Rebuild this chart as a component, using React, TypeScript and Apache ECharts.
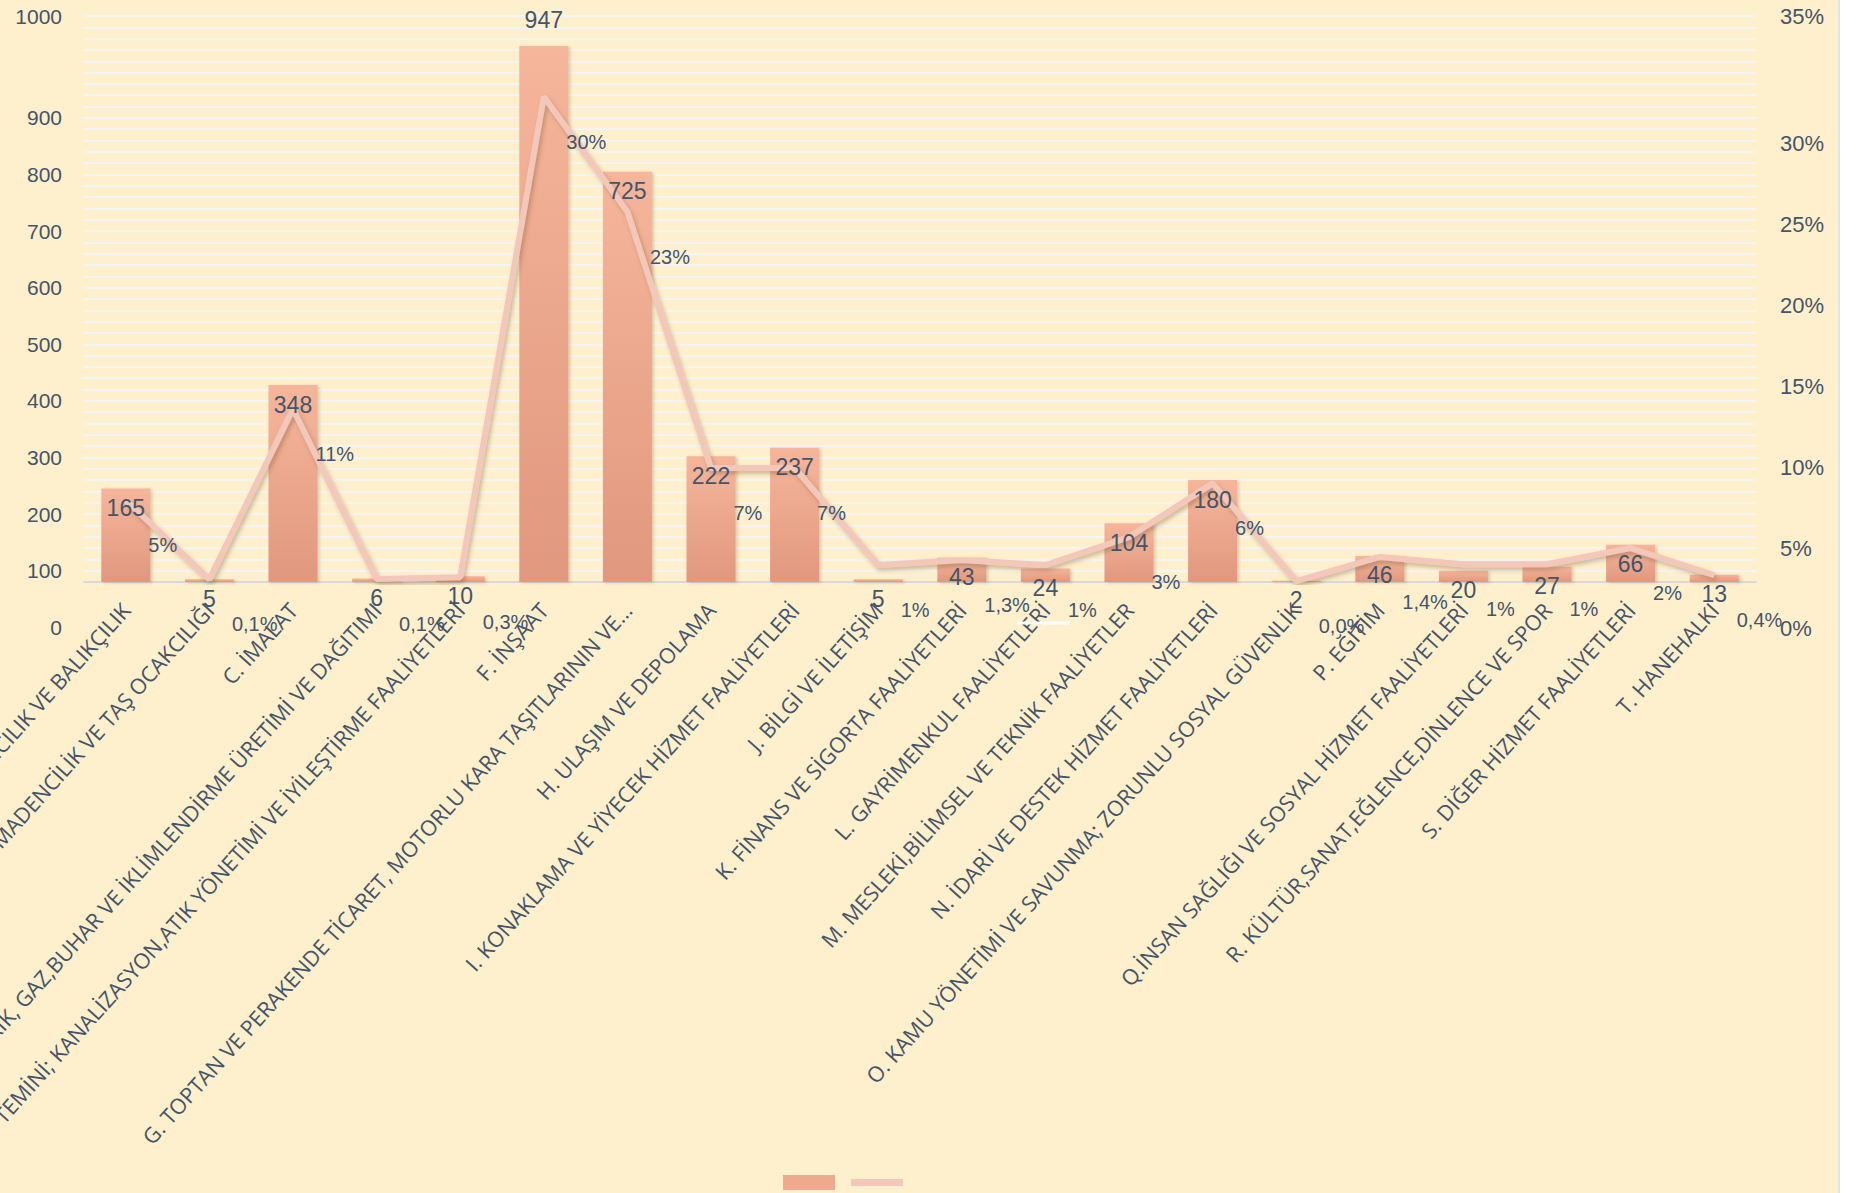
import React, { useEffect, useRef } from "react";
import * as echarts from "echarts";

const categories = [
  "A. TARIM, ORMANCILIK VE BALIKÇILIK",
  "B. MADENCİLİK VE TAŞ OCAKCILIĞI",
  "C. İMALAT",
  "D. ELEKTRİK, GAZ,BUHAR VE İKLİMLENDİRME ÜRETİMİ VE DAĞITIMI",
  "E. SU TEMİNİ; KANALİZASYON,ATIK YÖNETİMİ VE İYİLEŞTİRME FAALİYETLERİ",
  "F. İNŞAAT",
  "G. TOPTAN VE PERAKENDE TİCARET, MOTORLU KARA TAŞITLARININ VE...",
  "H. ULAŞIM VE DEPOLAMA",
  "I. KONAKLAMA VE YİYECEK HİZMET FAALİYETLERİ",
  "J. BİLGİ VE İLETİŞİM",
  "K. FİNANS VE SİGORTA FAALİYETLERİ",
  "L. GAYRİMENKUL FAALİYETLERİ",
  "M. MESLEKİ,BİLİMSEL VE TEKNİK FAALİYETLER",
  "N. İDARİ VE DESTEK HİZMET FAALİYETLERİ",
  "O. KAMU YÖNETİMİ VE SAVUNMA; ZORUNLU SOSYAL GÜVENLİK",
  "P. EĞİTİM",
  "Q.İNSAN SAĞLIĞI VE SOSYAL HİZMET FAALİYETLERİ",
  "R. KÜLTÜR,SANAT,EĞLENCE,DİNLENCE VE SPOR",
  "S. DİĞER HİZMET FAALİYETLERİ",
  "T. HANEHALKI",
];

const counts = [165, 5, 348, 6, 10, 947, 725, 222, 237, 5, 43, 24, 104, 180, 2, 46, 20, 27, 66, 13];

const shares = [
  0.0506, 0.0016, 0.107, 0.0019, 0.003, 0.3, 0.229, 0.0705, 0.0705, 0.0105,
  0.0136, 0.0105, 0.0278, 0.061, 0.0006, 0.0155, 0.011, 0.011, 0.021, 0.0043,
];

const shareLabels = [
  "5%", "0,1%", "11%", "0,1%", "0,3%", "30%", "23%", "7%", "7%", "1%",
  "1,3%", "1%", "3%", "6%", "0,0%", "1,4%", "1%", "1%", "2%", "0,4%",
];

const leftTickLabels = ["0", "100", "200", "300", "400", "500", "600", "700", "800", "900", "1000"];
const rightTickLabels = ["0%", "5%", "10%", "15%", "20%", "25%", "30%", "35%"];

// layout: where each tick label sits on its axis
const leftTickPos = [-80, 20, 120, 220, 320, 420, 520, 620, 720, 820, 1000];
const rightTickPos = [-0.029, 0.021, 0.071, 0.121, 0.171, 0.221, 0.271, 0.35];

const nearestIndex = (arr: number[], v: number) => {
  let bi = 0;
  let bd = Infinity;
  arr.forEach((a, i) => {
    const d = Math.abs(a - v);
    if (d < bd) {
      bd = d;
      bi = i;
    }
  });
  return bi;
};

export default function App() {
  const ref = useRef<HTMLDivElement>(null);

  useEffect(() => {
    const chart = echarts.init(ref.current!, null, { renderer: "svg" });
    const textColor = "#44546A";
    const font = "'Liberation Sans', Arial, sans-serif";
    const lineColor = "#F3C8BA";
    const maxCount = Math.max(...counts);

    chart.setOption({
      animation: false,
      backgroundColor: "#FEF0CD",
      grid: [
        { left: 84, width: 1672, top: 16, height: 566, outerBoundsMode: "none", containLabel: false },
        { left: 84, width: 1672, top: 16, height: 622.6, outerBoundsMode: "none", containLabel: false },
      ],
      graphic: [
        {
          type: "line",
          shape: { x1: 1017, y1: 623, x2: 1070, y2: 623 },
          style: { stroke: "#FFFFFF", lineWidth: 3 },
          z: 10,
        },
      ],
      legend: {
        left: 783,
        top: 1175,
        padding: 0,
        itemWidth: 52,
        itemHeight: 15,
        itemGap: 16,
        selectedMode: false,
        formatter: () => "",
        data: [
          { name: "Sayı", icon: "rect", itemStyle: { color: "#EFA98E" } },
          { name: "Oran", icon: "path://M0 0H52V7H0Z", itemStyle: { color: lineColor } },
        ],
      },
      xAxis: [
        {
          type: "category",
          gridIndex: 0,
          data: categories,
          axisTick: { show: false },
          axisLine: { lineStyle: { color: "#D9D9D9", width: 2 } },
          axisLabel: {
            interval: 0,
            rotate: 48,
            margin: 24,
            fontSize: 21.5,
            color: textColor,
            fontFamily: "'Open Sans', 'Noto Sans', sans-serif",
          },
        },
        { type: "category", gridIndex: 1, data: categories, show: false },
      ],
      yAxis: [
        {
          type: "value",
          gridIndex: 0,
          min: 0,
          max: 1000,
          interval: 20,
          axisLabel: { show: false },
          axisLine: { show: false },
          axisTick: { show: false },
          splitLine: { lineStyle: { color: "#F4F4F4", width: 2 } },
        },
        {
          type: "value",
          gridIndex: 0,
          position: "right",
          min: 0,
          max: 0.35,
          show: false,
          splitLine: { show: false },
        },
        {
          type: "value",
          gridIndex: 1,
          position: "left",
          min: -100,
          max: 1000,
          axisLine: { show: false },
          axisTick: { show: false },
          splitLine: { show: false },
          axisLabel: {
            customValues: leftTickPos,
            margin: 22,
            fontSize: 21,
            color: textColor,
            fontFamily: font,
            formatter: (v: number) => leftTickLabels[nearestIndex(leftTickPos, v)],
          },
        },
        {
          type: "value",
          gridIndex: 1,
          position: "right",
          min: -0.035,
          max: 0.35,
          axisLine: { show: false },
          axisTick: { show: false },
          splitLine: { show: false },
          axisLabel: {
            customValues: rightTickPos,
            margin: 24,
            fontSize: 22,
            color: textColor,
            fontFamily: font,
            formatter: (v: number) => rightTickLabels[nearestIndex(rightTickPos, v)],
          },
        },
      ],
      series: [
        {
          name: "Sayı",
          type: "bar",
          xAxisIndex: 0,
          yAxisIndex: 0,
          barWidth: 49,
          z: 2,
          data: counts,
          itemStyle: {
            color: new echarts.graphic.LinearGradient(0, 0, 0, 1, [
              { offset: 0, color: "#F6B69B" },
              { offset: 1, color: "#E0987E" },
            ]),
            shadowColor: "rgba(120,80,40,0.25)",
            shadowBlur: 3,
            shadowOffsetX: 2,
            shadowOffsetY: 1,
          },
          emphasis: { disabled: true },
        },
        {
          name: "Oran",
          type: "line",
          xAxisIndex: 0,
          yAxisIndex: 1,
          z: 3,
          data: shares,
          symbol: "circle",
          symbolSize: 1,
          showSymbol: true,
          itemStyle: { color: lineColor },
          lineStyle: {
            color: lineColor,
            width: 6,
            shadowColor: "rgba(110,80,40,0.35)",
            shadowBlur: 4,
            shadowOffsetX: 2,
            shadowOffsetY: 3,
          },
          label: {
            show: true,
            position: "right",
            distance: 22,
            offset: [0, 45],
            fontSize: 20,
            color: textColor,
            fontFamily: font,
            formatter: (p: any) => shareLabels[p.dataIndex],
          },
          emphasis: { disabled: true },
        },
        {
          name: "SayıEtiket",
          type: "bar",
          xAxisIndex: 0,
          yAxisIndex: 0,
          barWidth: 49,
          barGap: "-100%",
          z: 5,
          data: counts.map((v) =>
            v === maxCount ? { value: v, label: { position: "top", distance: 14 } } : v
          ),
          itemStyle: { color: "rgba(0,0,0,0)" },
          label: {
            show: true,
            position: "insideTop",
            distance: 8,
            fontSize: 23,
            color: textColor,
            fontFamily: font,
          },
          emphasis: { disabled: true },
          silent: true,
        },
      ],
    });

    return () => chart.dispose();
  }, []);

  return (
    <div
      ref={ref}
      style={{
        position: "absolute",
        left: 0,
        top: 0,
        width: 1838,
        height: 1193,
        borderRight: "2px solid #E4E4E4",
      }}
    />
  );
}
